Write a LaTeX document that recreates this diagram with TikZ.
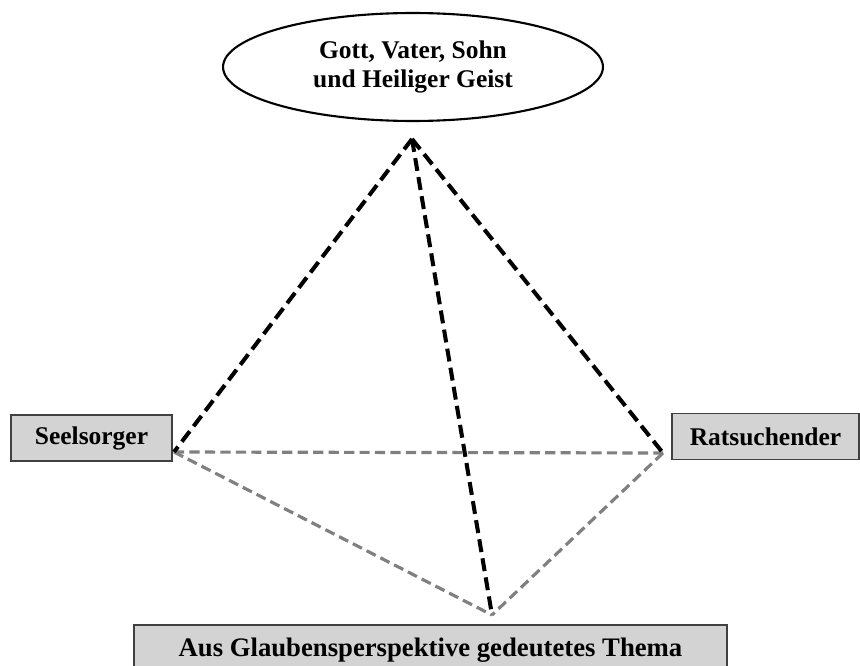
\documentclass[tikz,border=0pt]{standalone}
\usepackage{fontspec}
\setmainfont{Liberation Serif}
\usepackage{xcolor}
\usepackage{tikz}
\usetikzlibrary{shapes.geometric}
\definecolor{boxgray}{RGB}{211,211,211}
\definecolor{framegray}{RGB}{64,64,64}
\definecolor{basegray}{RGB}{128,128,128}
\tikzset{
  godnode/.style={ellipse,draw=black,line width=1.2pt,fill=white,inner sep=0pt,
    minimum width=7.6cm,minimum height=2.16cm,align=center,
    font=\fontsize{14.5}{16.5}\selectfont\bfseries},
  rolebox/.style={rectangle,draw=framegray,fill=boxgray,line width=0.9pt,inner sep=0pt,
    minimum height=0.92cm,font=\fontsize{14.5}{17}\selectfont\bfseries},
  upperedge/.style={line width=2.3pt,draw=black,dash pattern=on 7.4pt off 3.6pt},
  baseedge/.style={line width=1.8pt,draw=basegray,dash pattern=on 5.8pt off 3.0pt}
}

\begin{document}
\begin{tikzpicture}[x=0.02cm,y=-0.02cm]
  \useasboundingbox (0,0) rectangle (860,666);
  \clip (0,0) rectangle (860,666);

  \node[godnode] (gott) at (413,67)
    {Gott, Vater, Sohn\\und Heiliger Geist};

  \node[rolebox,minimum width=3.22cm] (seel) at (91.5,438) {Seelsorger};
  \node[rolebox,minimum width=3.74cm] (rat)  at (765.5,436.5) {Ratsuchender};
  \node[rolebox,minimum width=11.86cm,minimum height=1.0cm,
    font=\fontsize{15.2}{17}\selectfont\bfseries] (thema) at (430.5,650)
    {Aus Glaubensperspektive gedeutetes Thema};

  \coordinate (apex)   at (412,139);
  \coordinate (left)   at (174,452);
  \coordinate (right)  at (663,453);
  \coordinate (bottom) at (492,615);

  % base triangle
  \draw[baseedge] (left) -- (right);
  \draw[baseedge] (left) -- (bottom);
  \draw[baseedge] (right) -- (bottom);

  % edges up to the apex
  \draw[upperedge] (apex) -- (left);
  \draw[upperedge] (apex) -- (right);
  \draw[upperedge] (apex) -- (bottom);
\end{tikzpicture}
\end{document}
